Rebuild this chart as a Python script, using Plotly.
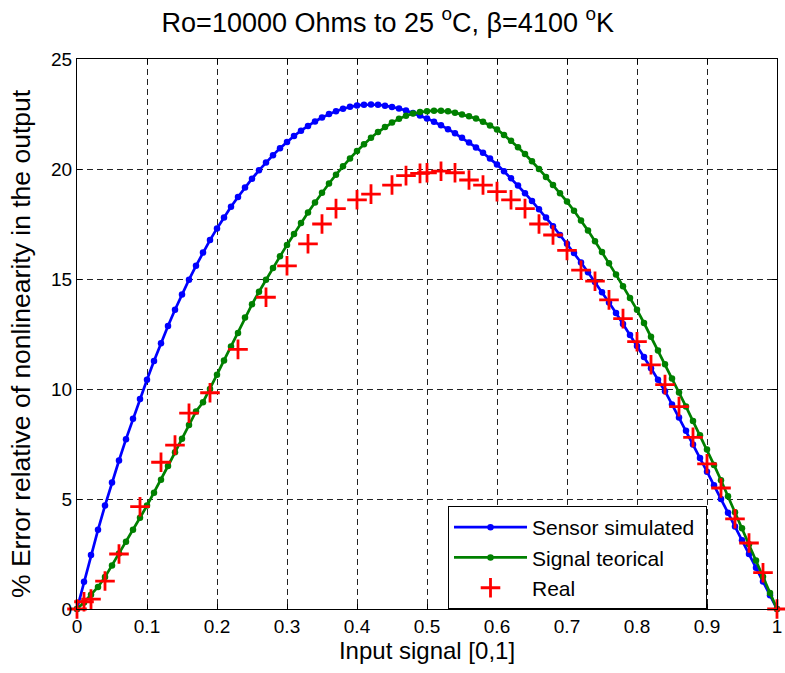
import plotly.graph_objects as go

# x grid of the simulated / theoretical curves (step 0.01)
x_curve = [round(i * 0.01, 2) for i in range(101)]

sensor_simulated = [
    0.0, 1.24, 2.45, 3.6, 4.7, 5.75, 6.75, 7.72, 8.65, 9.55,
    10.42, 11.27, 12.08, 12.86, 13.6, 14.3, 14.97, 15.6, 16.2, 16.77,
    17.3, 17.8, 18.28, 18.73, 19.16, 19.56, 19.94, 20.3, 20.63, 20.94,
    21.23, 21.5, 21.74, 21.96, 22.16, 22.34, 22.5, 22.63, 22.74, 22.83,
    22.89, 22.92, 22.93, 22.92, 22.88, 22.82, 22.75, 22.66, 22.55, 22.43,
    22.3, 22.15, 21.99, 21.81, 21.62, 21.42, 21.21, 20.98, 20.74, 20.48,
    20.2, 19.9, 19.58, 19.25, 18.9, 18.54, 18.17, 17.79, 17.4, 17.0,
    16.6, 16.18, 15.75, 15.31, 14.86, 14.4, 13.93, 13.45, 12.96, 12.46,
    11.96, 11.45, 10.94, 10.42, 9.9, 9.3, 8.7, 8.1, 7.48, 6.86,
    6.24, 5.62, 5.0, 4.38, 3.75, 3.12, 2.5, 1.87, 1.25, 0.62,
    0.0,
]

signal_teorical = [
    0.0, 0.3, 0.65, 1.0, 1.45, 1.98, 2.52, 3.06, 3.6, 4.15,
    4.7, 5.28, 5.88, 6.5, 7.12, 7.74, 8.36, 8.98, 9.4, 10.0,
    10.65, 11.3, 11.93, 12.55, 13.25, 13.85, 14.42, 14.97, 15.5, 16.03,
    16.55, 17.05, 17.54, 18.02, 18.48, 18.92, 19.34, 19.74, 20.12, 20.48,
    20.82, 21.13, 21.42, 21.68, 21.91, 22.11, 22.28, 22.42, 22.52, 22.59,
    22.63, 22.65, 22.65, 22.62, 22.56, 22.48, 22.4, 22.3, 22.15, 21.98,
    21.8, 21.55, 21.28, 20.99, 20.68, 20.35, 20.0, 19.64, 19.27, 18.9,
    18.52, 18.1, 17.66, 17.2, 16.72, 16.23, 15.72, 15.2, 14.67, 14.14,
    13.6, 13.0, 12.38, 11.75, 11.12, 10.48, 9.84, 9.2, 8.55, 7.9,
    7.25, 6.55, 5.85, 5.12, 4.4, 3.67, 2.94, 2.2, 1.47, 0.73,
    0.0,
]

x_real = [
    0.0, 0.01, 0.02, 0.04, 0.06, 0.09, 0.12, 0.14, 0.16, 0.19,
    0.23, 0.27, 0.30, 0.33, 0.35, 0.37, 0.40, 0.42, 0.45, 0.47,
    0.49, 0.50, 0.52, 0.54, 0.56, 0.58, 0.60, 0.62, 0.64, 0.66,
    0.68, 0.70, 0.72, 0.74, 0.76, 0.78, 0.80, 0.82, 0.84, 0.86,
    0.88, 0.90, 0.92, 0.94, 0.96, 0.98, 1.0,
]
y_real = [
    0.0, 0.33, 0.45, 1.27, 2.5, 4.65, 6.67, 7.45, 8.9, 9.83,
    11.8, 14.17, 15.6, 16.6, 17.5, 18.2, 18.6, 18.86, 19.27, 19.7,
    19.8, 19.83, 19.9, 19.83, 19.5, 19.27, 18.97, 18.6, 18.2, 17.5,
    17.0, 16.3, 15.4, 14.9, 14.05, 13.2, 12.15, 11.1, 10.2, 9.2,
    7.8, 6.6, 5.5, 4.1, 3.0, 1.65, 0.0,
]

x_ticks = [0, 0.1, 0.2, 0.3, 0.4, 0.5, 0.6, 0.7, 0.8, 0.9, 1]
x_tick_labels = ["0", "0.1", "0.2", "0.3", "0.4", "0.5", "0.6", "0.7", "0.8", "0.9", "1"]
y_ticks = [0, 5, 10, 15, 20, 25]
y_tick_labels = ["0", "5", "10", "15", "20", "25"]

FONT = "Liberation Sans, Arial, sans-serif"

fig = go.Figure()
fig.add_trace(go.Scatter(
    x=x_curve, y=sensor_simulated, name="Sensor simulated\u00a0",
    mode="lines+markers",
    line=dict(color="#0000FF", width=2.7),
    marker=dict(color="#0000FF", size=6.5),
    cliponaxis=False,
))
fig.add_trace(go.Scatter(
    x=x_curve, y=signal_teorical, name="Signal teorical",
    mode="lines+markers",
    line=dict(color="#008000", width=2.7),
    marker=dict(color="#008000", size=6.5),
    cliponaxis=False,
))
fig.add_trace(go.Scatter(
    x=x_real, y=y_real, name="Real",
    mode="markers",
    marker=dict(symbol="cross-thin", size=14, color="#FF0000",
                line=dict(color="#FF0000", width=2.8)),
    cliponaxis=False,
))

axis_common = dict(
    showline=True, linecolor="black", linewidth=1, mirror="ticks",
    ticks="inside", ticklen=5, tickcolor="black",
    showgrid=True, gridcolor="#222222", gridwidth=1, griddash="6px,4px",
    zeroline=False, automargin=False, ticklabeloverflow="allow",
    tickfont=dict(family=FONT, size=19, color="black"),
)

fig.update_xaxes(range=[0, 1], tickvals=x_ticks, ticktext=x_tick_labels,
                 title=dict(text="Input signal [0,1]", font=dict(family=FONT, size=24, color="black"), standoff=3),
                 **axis_common)
fig.update_yaxes(range=[0, 25], tickvals=y_ticks, ticktext=y_tick_labels,
                 **axis_common)

fig.add_annotation(
    text="% Error relative of nonlinearity in the output",
    xref="paper", yref="paper", x=-0.079, y=0.483,
    xanchor="center", yanchor="middle", textangle=-90, showarrow=False,
    font=dict(family=FONT, size=26.5, color="black"),
)

fig.update_layout(
    width=785, height=673,
    margin=dict(l=77, r=8, t=59, b=64),
    paper_bgcolor="white", plot_bgcolor="white",
    title=dict(text="Ro=10000 Ohms to 25 <sup>o</sup>C, β=4100 <sup>o</sup>K",
               x=0.494, xanchor="center", y=0.967, yanchor="middle",
               font=dict(family=FONT, size=27, color="black")),
    showlegend=True,
    legend=dict(x=0.53, y=0.0, xanchor="left", yanchor="bottom",
                bgcolor="white", bordercolor="black", borderwidth=1,
                font=dict(family=FONT, size=21, color="black"),
                itemwidth=73, tracegroupgap=0),
)

fig.write_html("out.html", config={"displayModeBar": False},
               post_script="document.body.style.margin='0px';")
